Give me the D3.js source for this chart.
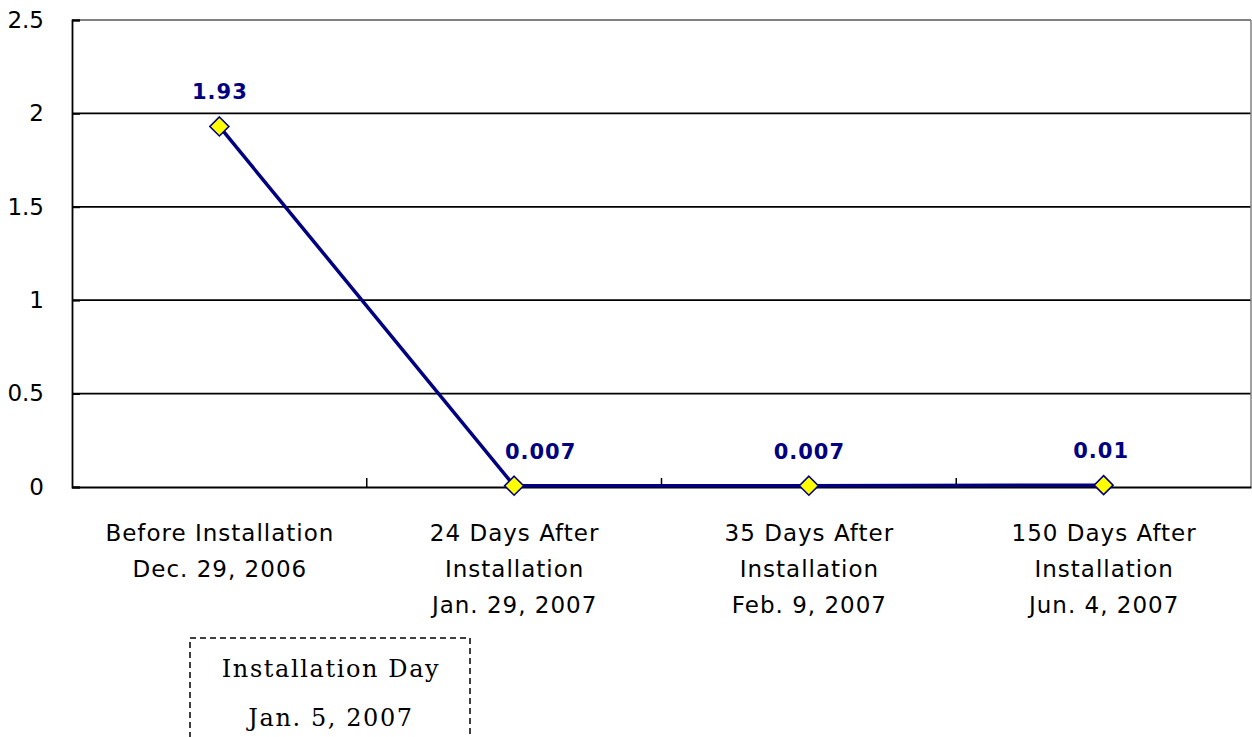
<!DOCTYPE html>
<html><head><meta charset="utf-8">
<script src="https://cdn.jsdelivr.net/npm/d3@7"></script>
<style>body{margin:0;background:#fff}svg{display:block}</style>
</head><body>
<script>
const categories = [
  ["Before Installation", "Dec. 29, 2006"],
  ["24 Days After", "Installation", "Jan. 29, 2007"],
  ["35 Days After", "Installation", "Feb. 9, 2007"],
  ["150 Days After", "Installation", "Jun. 4, 2007"]
];
const values = [1.93, 0.007, 0.007, 0.01];
const valueLabels = ["1.93", "0.007", "0.007", "0.01"];
const yTicks = [0, 0.5, 1, 1.5, 2, 2.5];
const yTickLabels = ["0", "0.5", "1", "1.5", "2", "2.5"];
const noteLines = ["Installation Day", "Jan. 5, 2007"];

const W = 1252, H = 737;
const L = 72, R = 1251, T = 20, B = 487;
const svg = d3.select("body").append("svg").attr("width", W).attr("height", H);
const font = "'DejaVu Sans', sans-serif";

const x = d3.scaleBand().domain(d3.range(categories.length)).range([L, R]).padding(0);
const y = d3.scaleLinear().domain([0, 2.5]).range([B, T]);

// gridlines
svg.append("g").selectAll("line").data(yTicks.filter(d => d > 0 && d < 2.5)).join("line")
  .attr("x1", L).attr("x2", R).attr("y1", d => y(d)).attr("y2", d => y(d))
  .attr("stroke", "#000").attr("stroke-width", 1.8);
// top and right border (gray)
svg.append("line").attr("x1", L).attr("x2", R).attr("y1", y(2.5)).attr("y2", y(2.5)).attr("stroke", "#808080").attr("stroke-width", 2);
svg.append("line").attr("x1", R).attr("x2", R).attr("y1", T).attr("y2", B).attr("stroke", "#808080").attr("stroke-width", 1.5);

// y axis
const yAxis = svg.append("g").attr("transform", `translate(${L},0)`)
  .call(d3.axisLeft(y).tickValues(yTicks).tickFormat((d, i) => yTickLabels[i]).tickSize(-8).tickPadding(28));
yAxis.select(".domain").attr("stroke", "#000").attr("stroke-width", 1.8);
yAxis.selectAll(".tick line").attr("stroke", "#000").attr("stroke-width", 1.8);
yAxis.selectAll(".tick text").attr("font-family", font).attr("font-size", 23).attr("fill", "#000");

// x axis
const xAxis = svg.append("g").attr("transform", `translate(0,${B})`)
  .call(d3.axisBottom(x).tickSize(0).tickFormat(""));
xAxis.select(".domain").attr("stroke", "#000").attr("stroke-width", 1.8);
svg.append("g").selectAll("line").data(d3.range(1, categories.length)).join("line")
  .attr("x1", d => x(d)).attr("x2", d => x(d)).attr("y1", B).attr("y2", B - 9)
  .attr("stroke", "#000").attr("stroke-width", 1.5);

// category labels
const cx = i => x(i) + x.bandwidth() / 2;
categories.forEach((lines, i) => {
  const t = svg.append("text").attr("text-anchor", "middle").attr("font-family", font)
    .attr("font-size", 23).attr("letter-spacing", 1).attr("fill", "#000");
  lines.forEach((s, j) => t.append("tspan").attr("x", cx(i) + 0.5).attr("y", 541 + j * 36).text(s));
});

// line
svg.append("path").datum(values)
  .attr("d", d3.line().x((d, i) => cx(i)).y(d => y(d)))
  .attr("fill", "none").attr("stroke", "#000080").attr("stroke-width", 3.5);

// markers
svg.append("g").selectAll("path").data(values).join("path")
  .attr("transform", (d, i) => `translate(${cx(i)},${y(d)})`)
  .attr("d", "M0,-9.5L9.5,0L0,9.5L-9.5,0Z")
  .attr("fill", "#ffff00").attr("stroke", "#000080").attr("stroke-width", 1.6);

// value labels (the second one is nudged right, clear of the falling line)
const labelShift = (d, i) => (i === 1 ? 26 : (i === 3 ? -3 : 0));
svg.append("g").selectAll("text").data(values).join("text")
  .attr("x", (d, i) => cx(i) + labelShift(d, i) + 0.5).attr("y", d => y(d) - 27)
  .attr("text-anchor", "middle").attr("font-family", font).attr("font-weight", "bold")
  .attr("font-size", 21).attr("fill", "#000080").attr("letter-spacing", 1)
  .text((d, i) => valueLabels[i]);

// annotation box
svg.append("rect").attr("x", 190).attr("y", 638).attr("width", 280).attr("height", 120)
  .attr("fill", "none").attr("stroke", "#000").attr("stroke-width", 1.5).attr("stroke-dasharray", "6,4");
noteLines.forEach((s, j) => {
  svg.append("text").attr("x", 331).attr("y", 677 + j * 49).attr("text-anchor", "middle")
    .attr("font-family", "'DejaVu Serif', serif").attr("font-size", 24).attr("letter-spacing", 1.6)
    .attr("fill", "#000").text(s);
});
</script>
</body></html>
